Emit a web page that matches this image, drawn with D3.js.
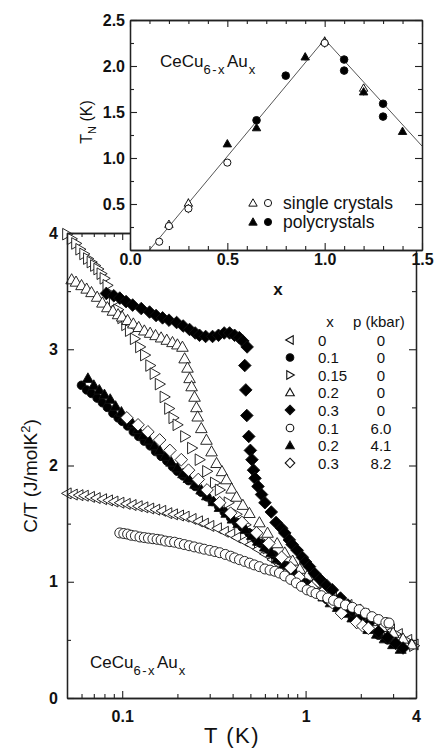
<!DOCTYPE html>
<html><head><meta charset="utf-8">
<script src="https://cdn.jsdelivr.net/npm/d3@7"></script>
<style>
body{margin:0;background:#fff;}
svg{display:block;font-family:"Liberation Sans",Arial,Helvetica,sans-serif;}
</style></head><body>
<svg id="chart" width="437" height="748"></svg>
<script>
// ---------- main panel data: C/T (J/molK^2) vs T (K) ----------
const T_x0 = [0.050,0.054,0.058,0.062,0.067,0.072,0.078,0.084,0.090,0.097,0.105,0.113,0.122,0.131,0.141,0.152,0.164,0.177,0.19,0.205,0.22,0.24,0.26,0.28,0.30,0.33,0.36,0.39,0.42,0.46,0.50,0.55,0.60,0.66,0.72,0.79,0.87,0.95,1.05,1.15,1.27,1.4,1.55,1.7,1.9,2.1,2.35,2.6,2.9,3.2,3.6,3.9];
const C_x0 = [1.76,1.75,1.745,1.74,1.73,1.72,1.71,1.70,1.69,1.68,1.67,1.66,1.65,1.64,1.63,1.62,1.61,1.59,1.58,1.57,1.56,1.54,1.52,1.50,1.48,1.46,1.43,1.41,1.38,1.35,1.32,1.28,1.24,1.19,1.15,1.10,1.05,1.01,0.97,0.94,0.91,0.87,0.83,0.80,0.76,0.72,0.67,0.63,0.59,0.55,0.50,0.46];

const T_x015 = [0.050,0.053,0.056,0.059,0.062,0.065,0.068,0.071,0.074,0.077,0.080,0.083,0.086,0.090,0.095,0.10,0.105,0.11,0.117,0.125,0.133,0.142,0.15,0.16,0.17,0.18,0.19,0.20,0.22,0.24,0.264,0.29,0.32,0.34,0.38,0.42,0.47,0.52,0.56,0.62,0.69,0.77,0.86,0.95,1.05,1.2,1.35,1.5,1.7,2.0,2.3,2.7,3.1,3.5,3.9];
const C_x015 = [3.99,3.95,3.91,3.86,3.82,3.78,3.75,3.72,3.69,3.65,3.61,3.55,3.48,3.41,3.34,3.27,3.21,3.16,3.09,3.02,2.95,2.86,2.79,2.70,2.59,2.49,2.41,2.35,2.25,2.15,2.05,1.95,1.85,1.79,1.68,1.58,1.49,1.41,1.36,1.29,1.21,1.14,1.07,1.02,0.97,0.91,0.86,0.82,0.77,0.72,0.66,0.60,0.55,0.50,0.45];

const T_x02 = [0.053,0.056,0.060,0.064,0.068,0.073,0.078,0.083,0.089,0.095,0.10,0.107,0.115,0.123,0.132,0.142,0.152,0.163,0.175,0.188,0.20,0.213,0.219,0.227,0.233,0.239,0.248,0.254,0.258,0.27,0.288,0.307,0.327,0.35,0.37,0.395,0.42,0.455,0.494,0.56,0.62,0.70,0.77,0.85,0.93,1.02,1.12,1.25,1.4,1.55,1.75,2.0,2.3,2.6,3.0,3.4,3.8];
const C_x02 = [3.60,3.58,3.55,3.52,3.49,3.45,3.40,3.36,3.33,3.30,3.28,3.25,3.22,3.19,3.16,3.14,3.12,3.10,3.08,3.06,3.04,3.02,2.92,2.84,2.75,2.68,2.59,2.50,2.42,2.32,2.22,2.12,2.02,1.95,1.88,1.80,1.73,1.66,1.59,1.51,1.42,1.33,1.25,1.18,1.11,1.05,0.99,0.94,0.88,0.83,0.78,0.72,0.66,0.61,0.56,0.51,0.46];

const T_x01 = [0.060,0.064,0.068,0.073,0.078,0.083,0.089,0.095,0.10,0.107,0.115,0.123,0.132,0.142,0.152,0.163,0.175,0.188,0.20,0.215,0.23,0.25,0.27,0.29,0.31,0.335,0.36,0.39,0.42,0.45,0.49,0.53,0.57,0.62,0.67,0.72,0.78,0.85,0.92,1.0,1.1,1.2,1.3,1.45,1.6,1.8,2.0,2.2,2.5,2.8,3.1];
const C_x01 = [2.69,2.65,2.62,2.58,2.54,2.50,2.45,2.41,2.38,2.34,2.29,2.25,2.21,2.17,2.12,2.08,2.04,1.99,1.95,1.91,1.87,1.82,1.77,1.73,1.69,1.65,1.60,1.55,1.51,1.47,1.42,1.37,1.33,1.28,1.23,1.18,1.14,1.09,1.04,0.99,0.94,0.89,0.85,0.80,0.75,0.69,0.64,0.60,0.54,0.50,0.46];

const T_x03 = [0.082,0.090,0.097,0.105,0.114,0.127,0.141,0.153,0.166,0.18,0.198,0.215,0.233,0.25,0.264,0.285,0.311,0.335,0.36,0.385,0.41,0.435,0.455,0.48,0.466,0.472,0.478,0.49,0.50,0.51,0.52,0.53,0.55,0.575,0.60,0.65,0.69,0.74,0.77,0.815,0.845,0.90,0.96,1.0,1.05,1.12,1.2,1.3,1.4,1.55,1.7,1.8,2.0,2.2,2.5,2.8,3.1,3.4];
const C_x03 = [3.48,3.46,3.44,3.41,3.38,3.35,3.32,3.29,3.27,3.25,3.23,3.20,3.17,3.14,3.12,3.11,3.11,3.12,3.14,3.14,3.12,3.10,3.07,3.02,2.86,2.65,2.43,2.25,2.13,2.05,1.96,1.89,1.82,1.75,1.68,1.60,1.51,1.46,1.42,1.36,1.32,1.27,1.21,1.17,1.13,1.07,1.02,0.97,0.93,0.86,0.80,0.75,0.69,0.64,0.57,0.52,0.47,0.43];

const T_x01_p6 = [0.097,0.102,0.107,0.112,0.118,0.125,0.132,0.139,0.147,0.155,0.163,0.172,0.182,0.193,0.205,0.218,0.232,0.247,0.264,0.28,0.30,0.32,0.34,0.365,0.39,0.41,0.436,0.465,0.495,0.525,0.56,0.60,0.64,0.68,0.72,0.77,0.83,0.89,0.95,1.02,1.08,1.14,1.22,1.32,1.42,1.52,1.65,1.8,1.96,2.12,2.3,2.5,2.74,2.85];
const C_x01_p6 = [1.42,1.415,1.41,1.40,1.395,1.385,1.38,1.375,1.37,1.365,1.36,1.35,1.345,1.34,1.33,1.32,1.31,1.30,1.29,1.28,1.27,1.26,1.25,1.235,1.22,1.205,1.19,1.175,1.16,1.145,1.13,1.11,1.10,1.09,1.075,1.05,1.02,0.99,0.96,0.93,0.915,0.90,0.88,0.86,0.84,0.82,0.80,0.78,0.76,0.73,0.70,0.675,0.65,0.645];

const T_x02_p41 = [0.065,0.070,0.075,0.080,0.086,0.092,0.099,0.106,0.114,0.122,0.131,0.14,0.15,0.16,0.172,0.185,0.20,0.215,0.23,0.25,0.27,0.29,0.315,0.34,0.37,0.40,0.43,0.47,0.51,0.55,0.60,0.65,0.70,0.76,0.82,0.89,0.97,1.05,1.15,1.25,1.37,1.5,1.65,1.8,2.0,2.2,2.45,2.7,3.0,3.3];
const C_x02_p41 = [2.75,2.69,2.65,2.61,2.57,2.51,2.46,2.41,2.36,2.31,2.26,2.22,2.17,2.13,2.08,2.03,1.98,1.93,1.89,1.84,1.79,1.74,1.69,1.64,1.59,1.54,1.50,1.45,1.40,1.35,1.30,1.25,1.20,1.15,1.10,1.05,1.00,0.96,0.91,0.87,0.82,0.78,0.73,0.69,0.64,0.59,0.55,0.51,0.46,0.42];

const T_x03_p82 = [0.106,0.122,0.138,0.16,0.182,0.21,0.23,0.26,0.29,0.34,0.39,0.45,0.54,0.63,0.74,0.83,0.92,1.08,1.23,1.40,1.57,1.9,2.05,2.2];
const C_x03_p82 = [2.41,2.35,2.29,2.22,2.13,2.05,1.96,1.88,1.79,1.68,1.59,1.51,1.42,1.33,1.21,1.12,1.04,0.95,0.90,0.82,0.73,0.65,0.62,0.60];

// legend categories
const legendX = ["0","0.1","0.15","0.2","0.3","0.1","0.2","0.3"];
const legendP = ["0","0","0","0","0","6.0","4.1","8.2"];

// tick labels
const mainXTicks = [0.1, 1, 4];
const mainXMinor = [0.06,0.07,0.08,0.09,0.2,0.3,0.4,0.5,0.6,0.7,0.8,0.9,2,3];
const mainYTicks = [0,1,2,3,4];
const mainYMinor = [0.5,1.5,2.5,3.5];

// ---------- inset data: T_N (K) vs x ----------
const insSingleCircX = [0.15,0.2,0.3,0.5,1.0];
const insSingleCircY = [0.09,0.26,0.45,0.95,2.25];
const insSingleCircE = [0,0,0.05,0,0.05];
const insSingleTriX = [0.2,0.3,1.0,1.2];
const insSingleTriY = [0.28,0.51,2.27,1.76];
const insSingleTriE = [0,0.05,0.05,0.04];
const insPolyTriX = [0.5,0.65,0.9,1.2,1.4];
const insPolyTriY = [1.155,1.33,2.10,1.72,1.29];
const insPolyTriE = [0,0,0.04,0.04,0.04];
const insPolyCircX = [0.65,0.8,1.1,1.1,1.3,1.3];
const insPolyCircY = [1.41,1.895,2.07,1.95,1.59,1.45];
const insLineX = [0.1,1.0,1.5];
const insLineY = [0.0,2.29,1.13];
const insXTicks = [0,0.5,1.0,1.5];
const insXMinor = [0.1,0.2,0.3,0.4,0.6,0.7,0.8,0.9,1.1,1.2,1.3,1.4];
const insYTicks = [0.5,1.0,1.5,2.0,2.5];
const insYMinor = [0.25,0.75,1.25,1.75,2.25];

// ---------- shapes ----------
function shapePath(kind, r){
  switch(kind){
    case "tri": return `M0,${-r}L${r},${r*0.75}L${-r},${r*0.75}Z`;
    case "left": return `M${-r},0L${r*0.75},${-r}L${r*0.75},${r}Z`;
    case "right": return `M${r},0L${-r*0.75},${-r}L${-r*0.75},${r}Z`;
    case "diamond": return `M0,${-r}L${r},0L0,${r}L${-r},0Z`;
    default: return `M${r},0A${r},${r} 0 1,1 ${-r},0A${r},${r} 0 1,1 ${r},0Z`;
  }
}

const svg = d3.select("#chart");
const x = d3.scaleLog().domain([0.05, 4]).range([67, 416]);
const y = d3.scaleLinear().domain([0, 4]).range([698, 233]);

const series = [
  {T:T_x0, C:C_x0, kind:"left", fill:false, r:5.5, leg:0},
  {T:T_x015, C:C_x015, kind:"right", fill:false, r:5.8, leg:2},
  {T:T_x02, C:C_x02, kind:"tri", fill:false, r:5.8, leg:3},
  {T:T_x01, C:C_x01, kind:"circle", fill:true, r:4.3, leg:1},
  {T:T_x02_p41, C:C_x02_p41, kind:"tri", fill:true, r:5.5, leg:6},
  {T:T_x03, C:C_x03, kind:"diamond", fill:true, r:6.3, leg:4},
  {T:T_x03_p82, C:C_x03_p82, kind:"diamond", fill:false, r:6.3, leg:7},
  {T:T_x01_p6, C:C_x01_p6, kind:"circle", fill:false, r:5, leg:5}
];

const plot = svg.append("g");
series.forEach(s=>{
  plot.append("g").selectAll("path").data(s.T.map((t,i)=>[t,s.C[i]])).join("path")
    .attr("transform", d=>`translate(${x(d[0])},${y(d[1])})`)
    .attr("d", shapePath(s.kind, s.r))
    .attr("fill", s.fill ? "#000" : "#fff")
    .attr("stroke", "#111").attr("stroke-width", 0.9);
});

// ---------- main axes ----------
function styleAxis(g){
  g.select(".domain").attr("stroke","#222").attr("stroke-width",1.3);
  g.selectAll(".tick line").attr("stroke","#222").attr("stroke-width",1.1);
  g.selectAll("text").attr("font-family","'Liberation Sans',Arial,sans-serif")
    .attr("font-size",16).attr("font-weight","bold").attr("fill","#111");
}
const ax = svg.append("g");
ax.append("g").attr("transform","translate(0,698)")
  .call(d3.axisBottom(x).tickValues(mainXMinor).tickSize(-4).tickSizeOuter(0).tickFormat(""))
  .call(styleAxis);
ax.append("g").attr("transform","translate(0,698)")
  .call(d3.axisBottom(x).tickValues(mainXTicks).tickSize(-7).tickSizeOuter(0).tickPadding(12.6).tickFormat(d3.format("")))
  .call(styleAxis);
ax.append("g").attr("transform","translate(0,233)")
  .call(d3.axisTop(x).tickValues(mainXMinor).tickSize(-4).tickSizeOuter(0).tickFormat(""))
  .call(styleAxis);
ax.append("g").attr("transform","translate(0,233)")
  .call(d3.axisTop(x).tickValues([0.1,1]).tickSize(-7).tickSizeOuter(0).tickFormat(""))
  .call(styleAxis);
ax.append("g").attr("transform","translate(67,0)")
  .call(d3.axisLeft(y).tickValues(mainYMinor).tickSize(-4).tickSizeOuter(0).tickFormat(""))
  .call(styleAxis);
ax.append("g").attr("transform","translate(67,0)")
  .call(d3.axisLeft(y).tickValues(mainYTicks).tickSize(-7).tickSizeOuter(0).tickPadding(9).tickFormat(d3.format("d")))
  .call(styleAxis);
ax.append("g").attr("transform","translate(416,0)")
  .call(d3.axisRight(y).tickValues(mainYMinor).tickSize(-4).tickSizeOuter(0).tickFormat(""))
  .call(styleAxis);
ax.append("g").attr("transform","translate(416,0)")
  .call(d3.axisRight(y).tickValues(mainYTicks).tickSize(-7).tickSizeOuter(0).tickFormat(""))
  .call(styleAxis);

// axis titles
svg.append("text").attr("x",232).attr("y",743).attr("text-anchor","middle")
  .attr("font-size",22).attr("letter-spacing",1.5).attr("fill","#111").text("T (K)");
const yl = svg.append("text").attr("transform","translate(37,476) rotate(-90)")
  .attr("text-anchor","middle").attr("font-size",19).attr("fill","#111");
yl.append("tspan").text("C/T (J/molK");
yl.append("tspan").attr("dy",-7).attr("font-size",13).text("2");
yl.append("tspan").attr("dy",7).text(")");

function formula(x0, y0, size){
  const t = svg.append("text").attr("x",x0).attr("y",y0).attr("font-size",size).attr("fill","#111");
  t.append("tspan").text("CeCu");
  t.append("tspan").attr("dy",7).attr("font-size",13).attr("letter-spacing",1.5).text("6-x");
  t.append("tspan").attr("dy",-7).attr("dx",1).text("Au");
  t.append("tspan").attr("dy",7).attr("font-size",13).attr("dx",1).text("x");
}
formula(90, 668, 17);

// legend
const legRows = [340,357.5,375,392.5,410,428,445.5,463];
svg.append("text").attr("x",330).attr("y",327).attr("text-anchor","middle").attr("font-size",15).attr("fill","#111").text("x");
svg.append("text").attr("x",353).attr("y",327).attr("font-size",15).attr("fill","#111").text("p (kbar)");
series.forEach(s=>{
  const ry = legRows[s.leg];
  svg.append("path").attr("transform",`translate(290,${ry})`)
    .attr("d", shapePath(s.kind, s.kind==="circle"? 3.8 : (s.kind==="diamond"?4.8:4.3)))
    .attr("fill", s.fill?"#000":"#fff").attr("stroke","#111").attr("stroke-width",1.1);
  svg.append("text").attr("x",318).attr("y",ry+5.5).attr("font-size",15).attr("fill","#111").text(legendX[s.leg]);
  svg.append("text").attr("x",381).attr("y",ry+5.5).attr("text-anchor","middle").attr("font-size",15).attr("fill","#111").text(legendP[s.leg]);
});

// ---------- inset ----------
const xi = d3.scaleLinear().domain([0,1.5]).range([130,422]);
const yi = d3.scaleLinear().domain([0,2.5]).range([250,20]);
const ins = svg.append("g");
ins.append("rect").attr("x",130).attr("y",20).attr("width",292).attr("height",230).attr("fill","#fff");

ins.append("path").datum(insLineX.map((v,i)=>[v,insLineY[i]]))
  .attr("d", d3.line().x(d=>xi(d[0])).y(d=>yi(d[1])))
  .attr("fill","none").attr("stroke","#555").attr("stroke-width",1);

function insPoints(X, Y, E, kind, fill, r){
  const g = ins.append("g");
  const data = X.map((v,i)=>({x:v,y:Y[i],e:E?E[i]:0}));
  g.selectAll("line").data(data.filter(d=>d.e>0)).join("line")
    .attr("x1",d=>xi(d.x)).attr("x2",d=>xi(d.x))
    .attr("y1",d=>yi(d.y+d.e)).attr("y2",d=>yi(d.y-d.e))
    .attr("stroke","#111").attr("stroke-width",1);
  g.selectAll("path").data(data).join("path")
    .attr("transform",d=>`translate(${xi(d.x)},${yi(d.y)})`)
    .attr("d", shapePath(kind, r))
    .attr("fill", fill?"#000":"#fff").attr("stroke","#111").attr("stroke-width",1);
}
insPoints(insSingleTriX, insSingleTriY, insSingleTriE, "tri", false, 4.2);
insPoints(insSingleCircX, insSingleCircY, insSingleCircE, "circle", false, 3.6);
insPoints(insPolyTriX, insPolyTriY, insPolyTriE, "tri", true, 4.2);
insPoints(insPolyCircX, insPolyCircY, null, "circle", true, 3.8);

const ia = svg.append("g");
ia.append("g").attr("transform","translate(0,250)")
  .call(d3.axisBottom(xi).tickValues(insXMinor).tickSize(-4).tickSizeOuter(0).tickFormat("")).call(styleAxis);
ia.append("g").attr("transform","translate(0,250)")
  .call(d3.axisBottom(xi).tickValues(insXTicks).tickSize(-7).tickSizeOuter(0).tickPadding(3.5).tickFormat(d3.format(".1f"))).call(styleAxis);
ia.append("g").attr("transform","translate(0,20)")
  .call(d3.axisTop(xi).tickValues(insXMinor).tickSize(-4).tickSizeOuter(0).tickFormat("")).call(styleAxis);
ia.append("g").attr("transform","translate(0,20)")
  .call(d3.axisTop(xi).tickValues(insXTicks).tickSize(-7).tickSizeOuter(0).tickFormat("")).call(styleAxis);
ia.append("g").attr("transform","translate(130,0)")
  .call(d3.axisLeft(yi).tickValues(insYMinor).tickSize(-4).tickSizeOuter(0).tickFormat("")).call(styleAxis);
ia.append("g").attr("transform","translate(130,0)")
  .call(d3.axisLeft(yi).tickValues(insYTicks).tickSize(-7).tickSizeOuter(0).tickPadding(5).tickFormat(d3.format(".1f"))).call(styleAxis);
ia.append("g").attr("transform","translate(422,0)")
  .call(d3.axisRight(yi).tickValues(insYMinor).tickSize(-4).tickSizeOuter(0).tickFormat("")).call(styleAxis);
ia.append("g").attr("transform","translate(422,0)")
  .call(d3.axisRight(yi).tickValues(insYTicks).tickSize(-7).tickSizeOuter(0).tickFormat("")).call(styleAxis);

// inset titles
svg.append("text").attr("x",278).attr("y",295).attr("text-anchor","middle")
  .attr("font-size",17).attr("font-weight","bold").attr("fill","#111").text("x");
const tn = svg.append("text").attr("transform","translate(92,122) rotate(-90)")
  .attr("text-anchor","middle").attr("font-size",16).attr("fill","#111");
tn.append("tspan").text("T");
tn.append("tspan").attr("dy",4).attr("font-size",11).text("N");
tn.append("tspan").attr("dy",-4).text(" (K)");
formula(160, 67, 17);

// inset legend
const insLeg = [
  {kind:"tri", fill:false, cx:253, cy:203},
  {kind:"circle", fill:false, cx:268, cy:203},
  {kind:"tri", fill:true, cx:253, cy:222},
  {kind:"circle", fill:true, cx:268, cy:222}
];
insLeg.forEach(d=>{
  svg.append("path").attr("transform",`translate(${d.cx},${d.cy})`)
    .attr("d", shapePath(d.kind, d.kind==="tri"?4.2:3.6))
    .attr("fill", d.fill?"#000":"#fff").attr("stroke","#111").attr("stroke-width",1);
});
svg.append("text").attr("x",283).attr("y",209).attr("font-size",17.5).attr("fill","#111").text("single crystals");
svg.append("text").attr("x",283).attr("y",228).attr("font-size",17.5).attr("fill","#111").text("polycrystals");
</script>
</body></html>
